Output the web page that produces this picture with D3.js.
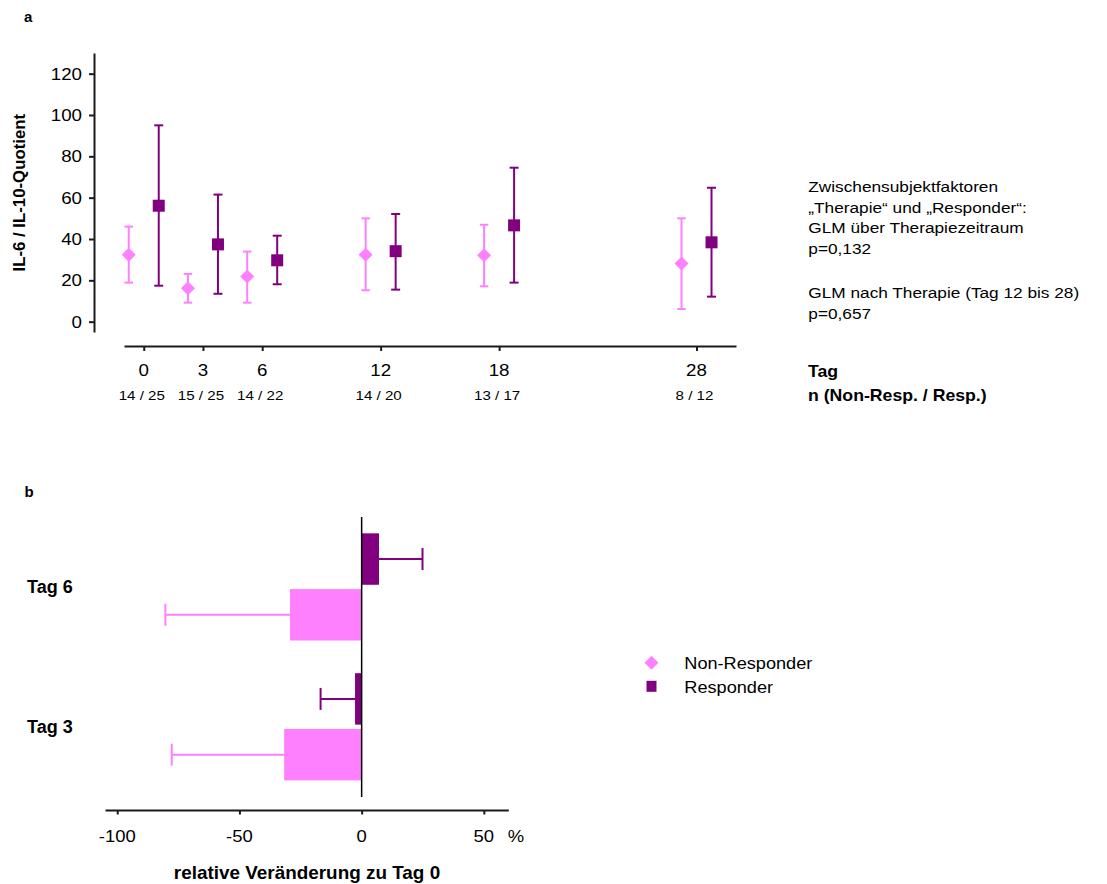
<!DOCTYPE html>
<html>
<head>
<meta charset="utf-8">
<script src="https://cdn.jsdelivr.net/npm/d3@7"></script>
<style>
  html, body { margin: 0; padding: 0; background: #fff; }
  svg { display: block; }
  text { font-family: "Liberation Sans", Arial, sans-serif; fill: #000; }
</style>
</head>
<body>
<svg id="chart" width="1107" height="884"></svg>
<script>
// ---------- data: panel a ----------
const days = [0, 3, 6, 12, 18, 28];
const nLabels = ["14 / 25", "15 / 25", "14 / 22", "14 / 20", "13 / 17", "8 / 12"];
const yTicksA = [0, 20, 40, 60, 80, 100, 120];
const nonRespMean  = [32.4, 16.2, 21.8, 32.4, 32.1, 28.2];
const nonRespUpper = [46.0, 23.1, 33.9, 50.0, 46.9, 50.0];
const nonRespLower = [18.9,  9.2,  9.2, 15.2, 17.1,  6.1];
const respMean  = [56.1, 37.4, 29.7, 34.1, 46.6, 38.4];
const respUpper = [95.0, 61.5, 41.6, 52.1, 74.5, 64.8];
const respLower = [17.4, 13.5, 18.1, 15.5, 18.9, 12.1];
const annotationLines = [
  "Zwischensubjektfaktoren",
  "\u201ETherapie\u201C und \u201EResponder\u201C:",
  "GLM \u00FCber Therapiezeitraum",
  "p=0,132",
  "GLM nach Therapie (Tag 12 bis 28)",
  "p=0,657"
];

// ---------- data: panel b ----------
const tagsB = ["Tag 6", "Tag 3"];
const groupsB = ["Responder", "Non-Responder"];
const respChange     = [7.1, -2.7];
const respChangeErr  = [24.9, -16.8];
const nonRespChange    = [-29.3, -31.7];
const nonRespChangeErr = [-80.3, -77.7];
const xTicksB = [-100, -50, 0, 50];

const PINK = "#ff80ff", PURPLE = "#800080", AXIS = "#1a1a1a";

const svg = d3.select("#chart");

// text helper with horizontal stretch
function txt(x, y, s, o = {}) {
  const g = svg.append("g").attr("transform", `translate(${x},${y})` + (o.rotate ? ` rotate(${o.rotate})` : ""));
  g.append("text")
    .attr("transform", `scale(${o.sx || 1},1)`)
    .attr("text-anchor", o.anchor || "start")
    .attr("font-size", o.size || 16)
    .attr("font-weight", o.bold ? "bold" : "normal")
    .text(s);
  return g;
}

// ================= Panel a =================
const xA = d3.scaleLinear().domain([-1, 30]).range([124, 736]);
const yA = d3.scaleLinear().domain([-5, 130]).range([332, 53]);
const OFF = 15; // horizontal offset of the two groups (px)

// y axis
const yAxisG = svg.append("g").attr("transform", `translate(${xA(-1) - 30},0)`)
  .call(d3.axisLeft(yA).tickValues(yTicksA).tickSize(5).tickSizeOuter(0).tickFormat(""));
yAxisG.select(".domain").attr("stroke", AXIS).attr("stroke-width", 2);
yAxisG.selectAll(".tick line").attr("stroke", AXIS).attr("stroke-width", 2);
yTicksA.forEach(v => txt(82, yA(v) + 6, String(v), { anchor: "end", size: 16.3, sx: 1.15 }));

// x axis
const xAxisG = svg.append("g").attr("transform", `translate(0,346)`)
  .call(d3.axisBottom(xA).tickValues(days).tickSize(5).tickSizeOuter(0).tickFormat(""));
xAxisG.select(".domain").attr("stroke", AXIS).attr("stroke-width", 2);
xAxisG.selectAll(".tick line").attr("stroke", AXIS).attr("stroke-width", 2);
days.forEach((d, i) => {
  txt(xA(d), 376, String(d), { anchor: "middle", size: 16.3, sx: 1.15 });
  txt(xA(d) - 2, 399.5, nLabels[i], { anchor: "middle", size: 13.5, sx: 1.12 });
});

// error bars + markers
function errBars(mean, up, lo, dx, color, capW) {
  const g = svg.append("g");
  days.forEach((d, i) => {
    const cx = xA(d) + dx;
    g.append("line").attr("x1", cx).attr("x2", cx).attr("y1", yA(up[i])).attr("y2", yA(lo[i]))
      .attr("stroke", color).attr("stroke-width", 2);
    [up[i], lo[i]].forEach(v => g.append("line")
      .attr("x1", cx - capW / 2).attr("x2", cx + capW / 2).attr("y1", yA(v)).attr("y2", yA(v))
      .attr("stroke", color).attr("stroke-width", 2));
  });
  return g;
}
const gNR = errBars(nonRespMean, nonRespUpper, nonRespLower, -OFF, PINK, 8.5);
const gR = errBars(respMean, respUpper, respLower, OFF, PURPLE, 9);

days.forEach((d, i) => {
  const cx = xA(d) - OFF, cy = yA(nonRespMean[i]);
  gNR.append("path").attr("d", `M${cx},${cy - 7}L${cx + 7},${cy}L${cx},${cy + 7}L${cx - 7},${cy}Z`).attr("fill", PINK);
  const rx = xA(d) + OFF, ry = yA(respMean[i]);
  gR.append("rect").attr("x", rx - 6).attr("y", ry - 6).attr("width", 12).attr("height", 12).attr("fill", PURPLE);
});

// labels panel a
txt(24, 21.5, "a", { size: 15, bold: true });
txt(25, 192.7, "IL-6 / IL-10-Quotient", { anchor: "middle", size: 16.8, bold: true, rotate: -90 });
txt(808, 376.5, "Tag", { size: 17, bold: true, sx: 1.04 });
txt(808, 400.5, "n (Non-Resp. / Resp.)", { size: 17, bold: true, sx: 1.04 });
const annY = [191.7, 212.5, 233.3, 254, 298.3, 319];
annotationLines.forEach((s, i) => txt(808.3, annY[i], s, { size: 15.4, sx: 1.12 }));

// ================= Panel b =================
const xB = d3.scaleLinear().domain([-105, 60]).range([105, 508.3]);
const yB = d3.scaleBand().domain(tagsB).range([517, 796.7]).padding(0);
const yInner = d3.scaleBand().domain(groupsB).range([0, yB.bandwidth()]).paddingInner(0.077).paddingOuter(0.293);

const xAxisB = svg.append("g").attr("transform", "translate(0,810)")
  .call(d3.axisBottom(xB).tickValues(xTicksB).tickSize(4.5).tickSizeOuter(0).tickFormat(""));
xAxisB.select(".domain").attr("stroke", AXIS).attr("stroke-width", 2);
xAxisB.selectAll(".tick line").attr("stroke", AXIS).attr("stroke-width", 2);
xTicksB.forEach(v => txt(xB(v), 841.5, String(v), { anchor: "middle", size: 16.5, sx: 1.12 }));
txt(516, 841.5, "%", { anchor: "middle", size: 16.5, sx: 1.12 });

const seriesB = [
  { key: "Responder", val: respChange, err: respChangeErr, color: PURPLE },
  { key: "Non-Responder", val: nonRespChange, err: nonRespChangeErr, color: PINK }
];
seriesB.forEach(s => {
  tagsB.forEach((t, i) => {
    const y0 = yB(t) + yInner(s.key), h = yInner.bandwidth();
    const v = s.val[i];
    svg.append("rect").attr("x", Math.min(xB(0), xB(v))).attr("y", y0)
      .attr("width", Math.abs(xB(v) - xB(0))).attr("height", h).attr("fill", s.color);
    const cy = y0 + h / 2;
    svg.append("line").attr("x1", xB(v)).attr("x2", xB(s.err[i])).attr("y1", cy).attr("y2", cy)
      .attr("stroke", s.color).attr("stroke-width", 2);
    svg.append("line").attr("x1", xB(s.err[i])).attr("x2", xB(s.err[i])).attr("y1", cy - 11).attr("y2", cy + 11)
      .attr("stroke", s.color).attr("stroke-width", 2);
  });
});
// zero line
svg.append("line").attr("x1", xB(0)).attr("x2", xB(0)).attr("y1", 517).attr("y2", 797)
  .attr("stroke", "#000").attr("stroke-width", 1.5);

tagsB.forEach(t => txt(27, yB(t) + yB.bandwidth() / 2 + 6.5, t, { size: 18, bold: true }));
txt(24.5, 496.7, "b", { size: 15, bold: true });
txt(307, 879.3, "relative Ver\u00E4nderung zu Tag 0", { anchor: "middle", size: 17.5, bold: true, sx: 1.08 });

// legend
const lx = 651.5;
svg.append("path").attr("d", `M${lx},${662.7 - 7}L${lx + 7},662.7L${lx},${662.7 + 7}L${lx - 7},662.7Z`).attr("fill", PINK);
svg.append("rect").attr("x", lx - 5).attr("y", 686.3 - 5.5).attr("width", 10).attr("height", 11).attr("fill", PURPLE);
txt(684.3, 668.5, "Non-Responder", { size: 16.5, sx: 1.1 });
txt(684.3, 693.3, "Responder", { size: 16.5, sx: 1.1 });
</script>
</body>
</html>
